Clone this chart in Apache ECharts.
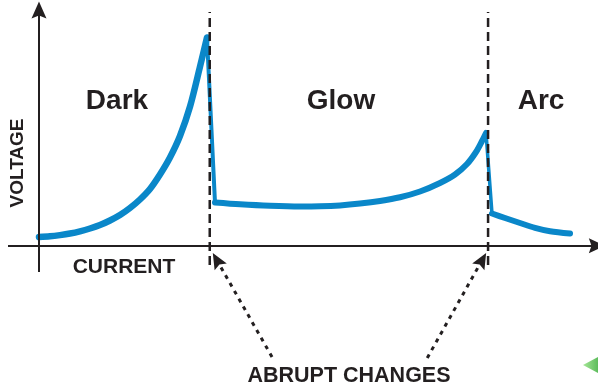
<!DOCTYPE html>
<html>
<head>
<meta charset="utf-8">
<script src="https://cdn.jsdelivr.net/npm/echarts@6/dist/echarts.min.js"></script>
<style>
  html, body { margin: 0; padding: 0; background: #ffffff; }
  #chart { width: 598px; height: 387px; }
</style>
</head>
<body>
<div id="chart"></div>
<script>
// Voltage-current characteristic of a gas discharge (arbitrary units)
const darkCurve = [
  [0, 3.37], [1.88, 3.63], [3.59, 4.09], [5.30, 4.70], [7.01, 5.54],
  [8.72, 6.62], [10.43, 7.95], [12.14, 9.68], [13.85, 11.78], [15.56, 14.46],
  [17.27, 17.71], [18.98, 21.72], [20.69, 27.27], [22.40, 33.77],
  [24.11, 41.99], [25.83, 53.27], [27.54, 68.57], [28.73, 79.66]
];
const glowCurve = [
  [30.10, 16.56], [34.38, 15.87], [39.51, 15.30], [44.64, 15.03], [48.06, 15.11],
  [51.48, 15.45], [54.90, 16.14], [58.32, 17.13], [61.74, 18.55], [65.16, 20.76],
  [68.58, 24.02], [71.15, 27.27], [73.20, 31.28], [74.74, 35.87], [75.77, 40.08],
  [76.45, 43.14]
];
const arcCurve = [
  [77.47, 12.35], [79.70, 10.63], [82.26, 8.72], [84.83, 6.88],
  [87.40, 5.58], [90.82, 4.70]
];
// sudden drops between regimes
const darkToGlow = [[28.73, 79.66], [30.10, 16.56]];
const glowToArc = [[76.45, 43.14], [77.47, 12.35]];
// regime boundaries (current values)
const boundaries = [29.2, 76.8];
const boundarySpan = [-7.3, 89.4];
// pointers to the boundaries: [tail, head]
const pointers = [
  [[39.85, -42.5], [30.4, -5.4]],
  [[66.4, -42.9], [75.8, -5.4]]
];
const regionNames = ['Dark', 'Glow', 'Arc'];
const xTitle = 'CURRENT';
const yTitle = 'VOLTAGE';
const noteText = 'ABRUPT CHANGES';
const navMarker = [[94.4, -45.6]];

const ink = '#231f20';
const blue = '#0a87c9';
const font = '"Liberation Sans", Arial, Helvetica, sans-serif';
const arrowHead = 'path://M0,0L7,18L0,15L-7,18Z';

const chart = echarts.init(document.getElementById('chart'), null, { renderer: 'canvas' });

const boundarySeries = boundaries.map(function (x) {
  return {
    type: 'line',
    data: [[x, boundarySpan[0]], [x, boundarySpan[1]]],
    symbol: 'none',
    z: 5,
    lineStyle: { color: ink, width: 2.5, type: [9, 5] }
  };
});

const curveStyle = function (w) {
  return { color: blue, width: w, cap: 'round', join: 'round' };
};

const option = {
  backgroundColor: '#ffffff',
  animation: false,
  grid: { left: 8, right: 0, top: 0, bottom: 0 },
  xAxis: { type: 'value', min: -5.3, max: 95.6, show: false },
  yAxis: { type: 'value', min: -54, max: 94, show: false },
  series: [
    { type: 'line', data: darkCurve, smooth: 0.3, symbol: 'none', z: 3, lineStyle: curveStyle(6.5) },
    { type: 'line', data: glowCurve, smooth: 0.3, symbol: 'none', z: 3, lineStyle: curveStyle(6) },
    { type: 'line', data: arcCurve, smooth: 0.3, symbol: 'none', z: 3, lineStyle: curveStyle(6) },
    { type: 'line', data: darkToGlow, symbol: 'none', z: 3, lineStyle: curveStyle(4) },
    { type: 'line', data: glowToArc, symbol: 'none', z: 3, lineStyle: curveStyle(3.5) }
  ].concat(boundarySeries).concat([
    {
      // axes with arrowheads and the pointers to the boundaries
      type: 'line', data: [], z: 4,
      markLine: {
        silent: true,
        animation: false,
        label: { show: false },
        emphasis: { disabled: true },
        data: [
          [
            { coord: [-5.3, 0], symbol: 'none', lineStyle: { color: ink, width: 2, type: 'solid' } },
            { coord: [95.4, 0], symbol: arrowHead, symbolSize: [15, 16] }
          ],
          [
            { coord: [0, -10], symbol: 'none', lineStyle: { color: ink, width: 2, type: 'solid' } },
            { coord: [0, 90.2], symbol: arrowHead, symbolSize: [15, 17] }
          ]
        ].concat(pointers.map(function (p) {
          return [
            { coord: p[0], symbol: 'none', lineStyle: { color: ink, width: 3, type: [4, 5] } },
            { coord: p[1], symbol: arrowHead, symbolSize: [14, 16] }
          ];
        })),
        itemStyle: { color: ink }
      }
    },
    {
      type: 'scatter', data: navMarker, symbol: 'triangle', symbolRotate: 90,
      symbolSize: [17, 16], silent: true,
      itemStyle: {
        color: new echarts.graphic.LinearGradient(0, 0, 0, 1, [
          { offset: 0, color: '#8fe07c' },
          { offset: 1, color: '#2fa82f' }
        ])
      }
    }
  ]),
  graphic: [
    { type: 'text', x: 117, y: 101, style: { text: regionNames[0], font: 'bold 28px ' + font, fill: ink, align: 'center', verticalAlign: 'middle' } },
    { type: 'text', x: 341, y: 101, style: { text: regionNames[1], font: 'bold 28px ' + font, fill: ink, align: 'center', verticalAlign: 'middle' } },
    { type: 'text', x: 541, y: 101, style: { text: regionNames[2], font: 'bold 28px ' + font, fill: ink, align: 'center', verticalAlign: 'middle' } },
    { type: 'text', x: 124, y: 267, style: { text: xTitle, font: 'bold 21px ' + font, fill: ink, align: 'center', verticalAlign: 'middle' } },
    { type: 'text', x: 18, y: 163, rotation: Math.PI / 2, style: { text: yTitle, font: 'bold 19px ' + font, fill: ink, align: 'center', verticalAlign: 'middle' } },
    { type: 'text', x: 349, y: 376, style: { text: noteText, font: 'bold 21.5px ' + font, fill: ink, align: 'center', verticalAlign: 'middle' } }
  ]
};

chart.setOption(option);
</script>
</body>
</html>
